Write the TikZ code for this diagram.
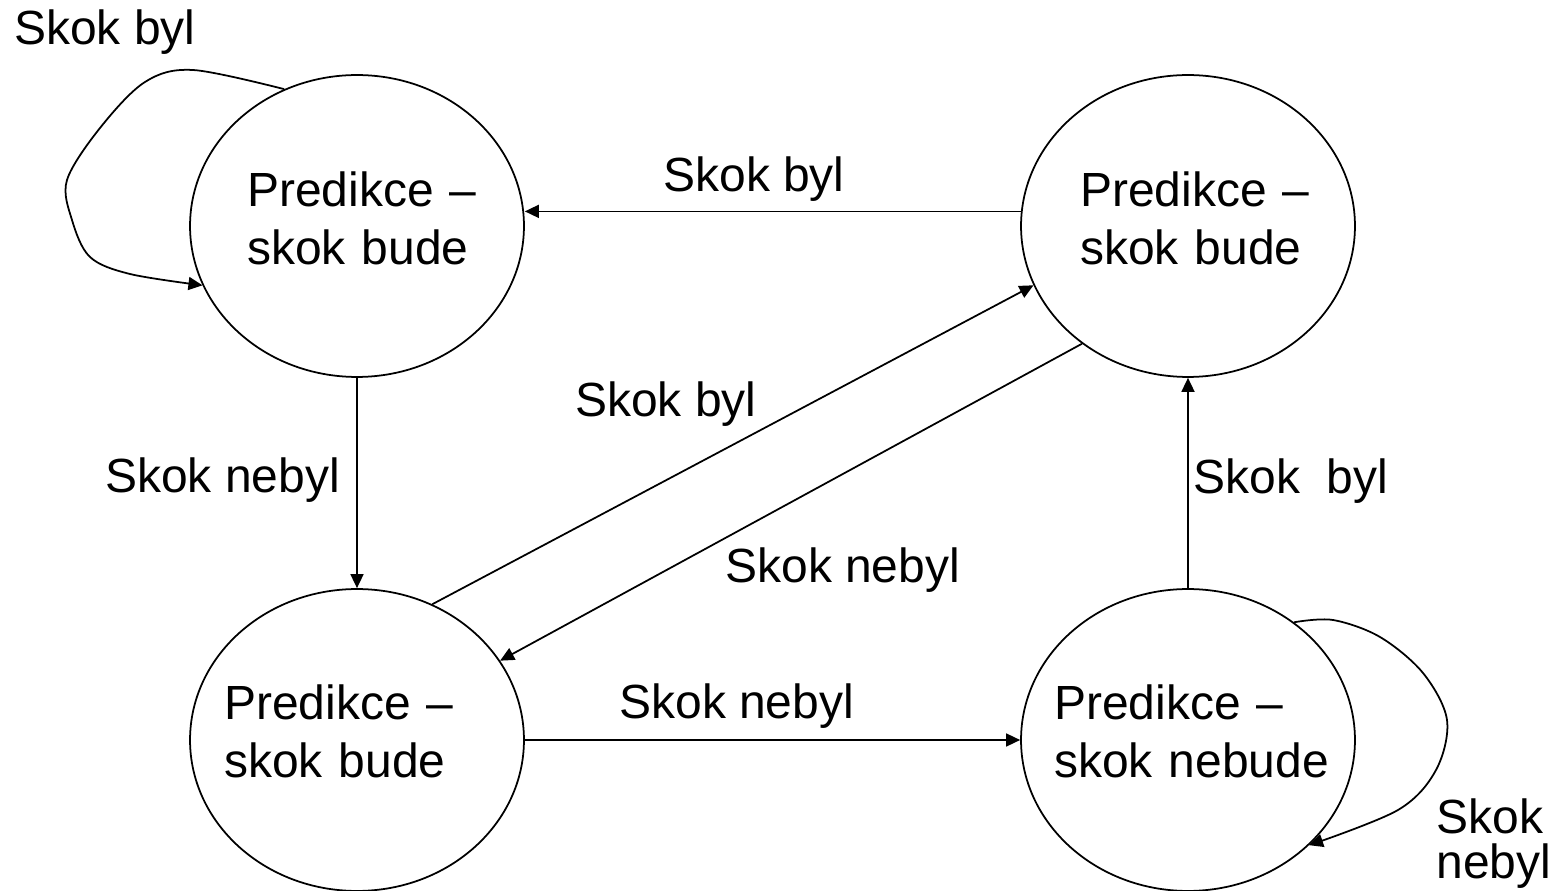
\documentclass[tikz,border=0pt]{standalone}
\usepackage{fontspec}
\setmainfont{Liberation Sans}
\usetikzlibrary{shapes.geometric, arrows.meta}

\begin{document}
\begin{tikzpicture}[x=0.02cm, y=-0.02cm,
		state/.style={draw, ellipse, line width=1pt, minimum width=6.68cm, minimum height=6.04cm, inner sep=0pt},
		stext/.style={anchor=base west, inner sep=0pt, text width=6cm, align=left, font=\fontsize{27.3pt}{33pt}\selectfont},
		lbl/.style={anchor=base west, inner sep=0pt, font=\fontsize{27.3pt}{33pt}\selectfont},
		arr/.style={line width=1pt, -{Triangle[length=8pt, width=7.4pt]}}]
		% Frame
		\useasboundingbox (0,0) rectangle (1556,891);
		
		% States
		\node[state] (sA) at (357,226) {};
		\node[state] (sB) at (1188,226) {};
		\node[state] (sC) at (357,740) {};
		\node[state] (sD) at (1188,740) {};
		\node[stext] (tA) at (247,207) {Predikce --\\skok bude};
		\node[stext] (tB) at (1080,207) {Predikce --\\skok bude};
		\node[stext] (tC) at (224,720) {Predikce --\\skok bude};
		\node[stext] (tD) at (1054,720) {Predikce --\\skok nebude};
		
		% Self loops
		\draw[arr] plot[smooth, tension=0.55] coordinates {(sA.118.7) (193,70) (145,82) (100,128) (67,180) (72,220) (90,257) (130,274) (sA.201.1)};
		\node[lbl] (lA) at (14,45) {Skok byl};
		\draw[arr] plot[smooth, tension=0.55] coordinates {(sD.48.8) (1333,620) (1380,637) (1423,673) (1447,720) (1436,770) (1398,810) (sD.319.5)};
		\node[stext, text width=3cm, font=\fontsize{27.3pt}{26pt}\selectfont] (lD) at (1436,833) {Skok\\nebyl};
		
		% Transitions
		\draw[arr] (sB.175) -- (sB.175 -| sA.east);
		\node[lbl] (lBA) at (663,192) {Skok byl};
		\draw[arr] (sA.south) -- (sC.north);
		\node[lbl] (lAC) at (105,493) {Skok nebyl};
		\draw[arr] (sC.61) -- (sB.201.7);
		\node[lbl] (lCB) at (575,417) {Skok byl};
		\draw[arr] (sB.228.8) -- (sC.29.3);
		\node[lbl] (lBC) at (725,583) {Skok nebyl};
		\draw[arr] (sC.east) -- (sD.west);
		\node[lbl] (lCD) at (619,719) {Skok nebyl};
		\draw[arr] (sD.north) -- (sB.south);
		\node[lbl] (lDB) at (1193,494) {Skok\ \ byl};
		
	\end{tikzpicture}
\end{document}
